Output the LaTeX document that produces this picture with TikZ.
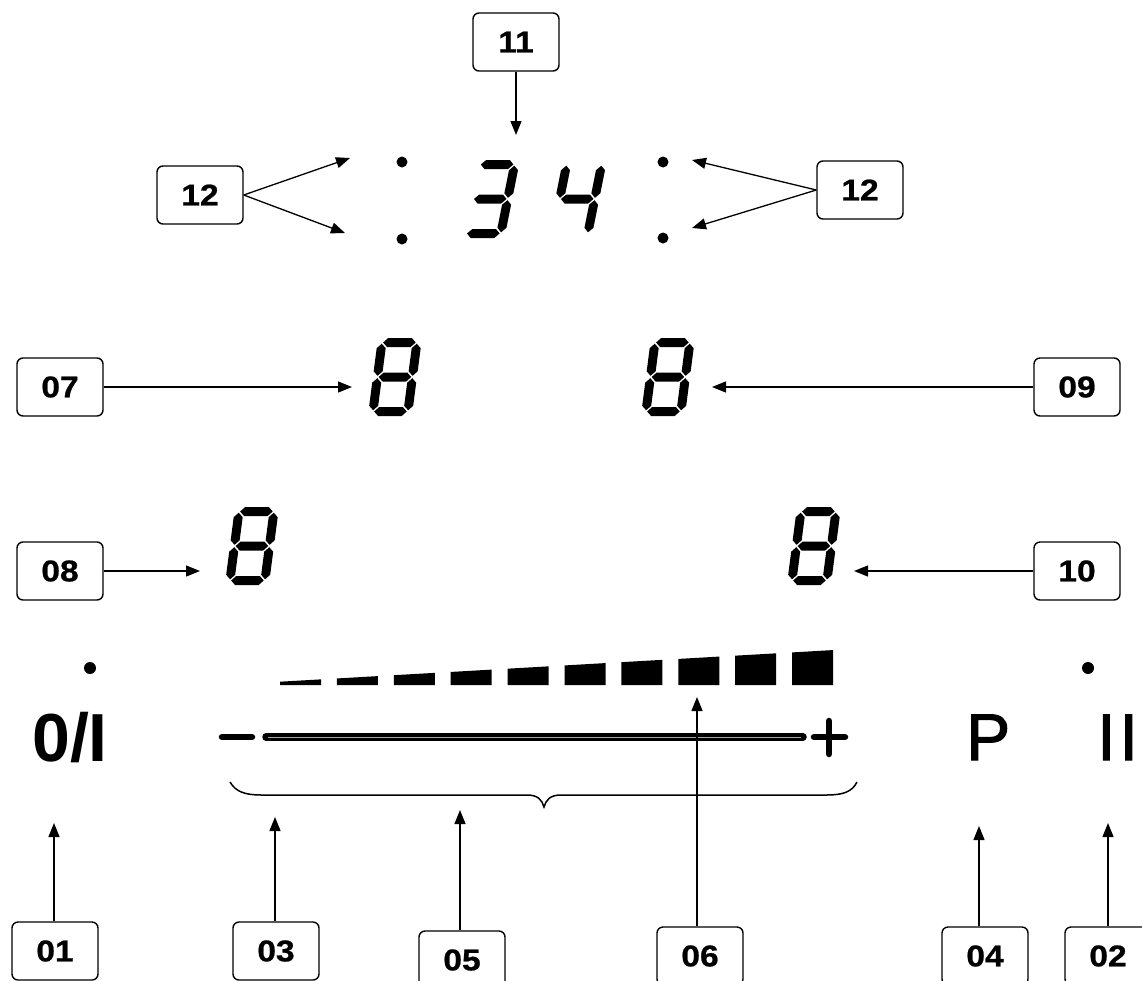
\documentclass[tikz,border=0pt]{standalone}
\usepackage{fontspec}
\setmainfont{Liberation Sans}
\newfontfamily\lblfont[FakeStretch=1.12, FakeBold=0.8]{Liberation Sans}
\newfontfamily\keyfont[FakeBold=1.6]{Liberation Sans}
\usetikzlibrary{arrows.meta}
% seven-segment pieces, local coords: origin top-left, y downward, 44 x 78
\newcommand{\dsegA}{\fill (5.7,4.5)--(10.2,0)--(33.8,0)--(38.3,4.5)--(33.8,9)--(10.2,9)--cycle;}
\newcommand{\dsegG}{\fill (5.7,39)--(10.2,34.5)--(33.8,34.5)--(38.3,39)--(33.8,43.5)--(10.2,43.5)--cycle;}
\newcommand{\dsegD}{\fill (5.7,73.5)--(10.2,69)--(33.8,69)--(38.3,73.5)--(33.8,78)--(10.2,78)--cycle;}
\newcommand{\dsegF}{\fill (4.5,5.7)--(9,10.2)--(9,33.3)--(4.5,37.8)--(0,33.3)--(0,10.2)--cycle;}
\newcommand{\dsegE}{\fill (4.5,40.2)--(9,44.7)--(9,67.8)--(4.5,72.3)--(0,67.8)--(0,44.7)--cycle;}
\newcommand{\dsegB}{\fill (39.5,5.7)--(44,10.2)--(44,33.3)--(39.5,37.8)--(35,33.3)--(35,10.2)--cycle;}
\newcommand{\dsegC}{\fill (39.5,40.2)--(44,44.7)--(44,67.8)--(39.5,72.3)--(35,67.8)--(35,44.7)--cycle;}
\newcommand{\sevenseg}[4]{%
  \begin{scope}[shift={(#1,#2)}, xslant=#3]
    \foreach \s in {#4} {\csname dseg\s\endcsname}
  \end{scope}}
\begin{document}
\begin{tikzpicture}[x=1pt, y=-1pt,
  lbl/.style={draw, rounded corners=6pt, line width=1.4pt, minimum width=86pt,
    minimum height=58pt, inner sep=0pt, font=\lblfont\bfseries\fontsize{30}{32}\selectfont},
  arr/.style={-{Triangle[length=14pt,width=11pt]}, line width=1.3pt}]
\useasboundingbox (0,0) rectangle (1142,980);

% ---- top clock display ----
\sevenseg{476}{160}{0.2}{A,B,G,C,D}
\sevenseg{563}{160}{0.2}{F,G,B,C}
\fill (402,162) circle (5.5pt);
\fill (402,239) circle (5.5pt);
\fill (663,162) circle (5.5pt);
\fill (663,238) circle (5.5pt);

\node[lbl] (b11) at (516,42) {11};
\coordinate (t11) at (516,135);
\draw[arr] (b11.south) -- (t11);

\node[lbl] (b12l) at (200,195) {12};
\coordinate (t12a) at (350,158);
\coordinate (t12b) at (345,233);
\draw[arr] (b12l.east) -- (t12a);
\draw[arr] (b12l.east) -- (t12b);

\node[lbl] (b12r) at (860,190) {12};
\coordinate (t12c) at (692,160);
\coordinate (t12d) at (692,228);
\draw[arr] (b12r.west) -- (t12c);
\draw[arr] (b12r.west) -- (t12d);

% ---- zone digits ----
\sevenseg{378}{338}{0.13}{A,B,C,D,E,F,G}
\sevenseg{651}{338}{0.13}{A,B,C,D,E,F,G}
\sevenseg{235}{507}{0.13}{A,B,C,D,E,F,G}
\sevenseg{797}{507}{0.13}{A,B,C,D,E,F,G}

\node[lbl] (b07) at (60,387) {07};
\coordinate (t07) at (352,387);
\draw[arr] (b07.east) -- (t07);
\node[lbl] (b09) at (1077,387) {09};
\coordinate (t09) at (712,387);
\draw[arr] (b09.west) -- (t09);
\node[lbl] (b08) at (60,571) {08};
\coordinate (t08) at (200,571);
\draw[arr] (b08.east) -- (t08);
\node[lbl] (b10) at (1077,571) {10};
\coordinate (t10) at (854,571);
\draw[arr] (b10.west) -- (t10);

% ---- power level bars ----
\foreach \i in {0,...,9} {
  \pgfmathsetmacro\xl{280+56.9*\i}
  \pgfmathsetmacro\xr{\xl+41}
  \pgfmathsetmacro\yl{681.7-0.0572*(\xl-280)}
  \pgfmathsetmacro\yr{681.7-0.0572*(\xr-280)}
  \fill (\xl,685) -- (\xr,685) -- (\xr,\yr) -- (\xl,\yl) -- cycle;
}

% ---- slider ----
\draw[line width=6.5pt, line cap=round] (222,737) -- (252,737);
\draw[line width=7.5pt, line cap=round] (266,737) -- (803,737);
\draw[line width=0.8pt, gray!70] (268,737) -- (801,737);
\draw[line width=6.5pt, line cap=round] (814,737) -- (845,737);
\draw[line width=6.5pt, line cap=round] (829,721) -- (829,754);

% brace
\draw[line width=1.5pt] (230,782) .. controls (236,792) and (245,795) .. (262,795)
  -- (527,795) .. controls (538,795) and (542,800) .. (544,807)
  .. controls (546,800) and (550,795) .. (561,795)
  -- (826,795) .. controls (843,795) and (852,792) .. (857,782);

% ---- keys ----
\fill (90,668) circle (6pt);
\fill (1088,668) circle (6pt);
\node[anchor=base west, inner sep=0pt, font=\bfseries\fontsize{68}{70}\selectfont] (k01) at (32,761) {0/I};
\node[anchor=base west, inner sep=0pt, font=\keyfont\fontsize{66}{68}\selectfont] (k04) at (966,760) {P};
\node[anchor=base west, inner sep=0pt, font=\keyfont\fontsize{66}{68}\selectfont] (k02) at (1097,760) {I\kern4pt I};

% ---- bottom labels ----
\node[lbl] (b01) at (55,951) {01};
\node[lbl] (b03) at (276,951) {03};
\node[lbl] (b05) at (462,960) {05};
\node[lbl] (b06) at (700,956) {06};
\node[lbl] (b04) at (985,956) {04};
\node[lbl] (b02) at (1108,956) {02};

\coordinate (t01) at (54,823);
\coordinate (t03) at (275,817);
\coordinate (t05) at (460,810);
\coordinate (t06) at (697,697);
\coordinate (t04) at (979,826);
\coordinate (t02) at (1108,823);
\draw[arr] (t01 |- b01.north) -- (t01);
\draw[arr] (t03 |- b03.north) -- (t03);
\draw[arr] (t05 |- b05.north) -- (t05);
\draw[arr] (t06 |- b06.north) -- (t06);
\draw[arr] (t04 |- b04.north) -- (t04);
\draw[arr] (t02 |- b02.north) -- (t02);
\end{tikzpicture}
\end{document}
